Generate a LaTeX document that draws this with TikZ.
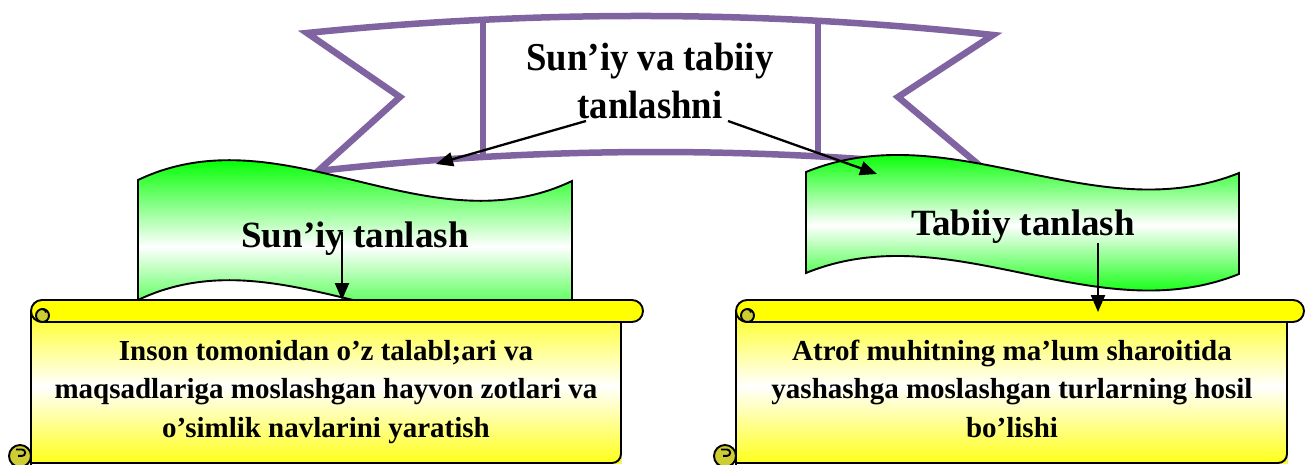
\documentclass[tikz,border=0pt]{standalone}
\usepackage{fontspec}
\setmainfont{Liberation Serif}
\newfontfamily\ribfont[FakeStretch=0.93]{Liberation Serif}
\usetikzlibrary{arrows.meta}
\definecolor{rib}{RGB}{128,100,162}
\definecolor{grn}{RGB}{0,255,0}
\definecolor{ylw}{RGB}{255,255,0}
\definecolor{curlc}{RGB}{204,204,51}
\tikzset{
  ribbon/.style={draw=rib, line width=6.5pt, fill=white, line join=miter},
  ribline/.style={draw=rib, line width=6.5pt},
  bline/.style={draw=black, line width=1.9pt},
  sline/.style={draw=black, line width=1.9pt},
  ttl/.style={inner sep=0pt, anchor=base, font=\bfseries\fontsize{37}{44}\selectfont},
  rtl/.style={inner sep=0pt, anchor=base, font=\ribfont\bfseries\fontsize{39.5}{44}\selectfont},
  stx/.style={inner sep=0pt, anchor=base, font=\bfseries\fontsize{29}{36}\selectfont},
  arr/.style={draw=black, line width=2.3pt, -{Triangle[length=17pt,width=14pt]}},
  gshade/.style={top color=grn, bottom color=grn, middle color=white},
  yshade/.style={top color=ylw, bottom color=ylw, middle color=white}
}
\newcommand\myscroll[3]{%
  % #1 body left, #2 body right, #3 bar rightmost
  \begin{scope}
    \clip (#1,311) -- (#1,463) -- (#2,463) -- (#2,311) -- cycle;
    \fill[yshade] (#1-2,300) rectangle (#2+2,472);
  \end{scope}
  \draw[sline] (#1,311) -- (#1,467);
  \draw[sline, rounded corners=9pt] (#1,463) -- (#2,463) -- (#2,318);
  \draw[sline, fill=ylw] (#1+11,300) -- (#3-11,300) arc(-90:90:11) -- (#1+11,322) arc(90:270:11) -- cycle;
  \draw[sline, fill=curlc] (#1+11.5,315.5) circle (6.5);
  \draw[sline] (#1+11.5,309) arc(-90:0:3.5);
  \draw[sline, fill=curlc] (#1-11,456) circle (11);
  \draw[sline] (#1-15,449.5) -- (#1-9,449.5) arc(-90:90:3.2) -- (#1-13,455.9);
}
\begin{document}
\begin{tikzpicture}[x=1pt,y=-1pt]
\useasboundingbox (0,0) rectangle (1305,465);

% ---- top ribbon ----
\coordinate (rTL) at (307,33);
\coordinate (rTR) at (993,35);
\coordinate (rNR) at (898,97);
\coordinate (rBR) at (985,170);
\coordinate (rBL) at (318,171);
\coordinate (rNL) at (400,97);
\draw[ribbon] (rTL) .. controls (535.7,9.7) and (764.3,10.3) .. (rTR) -- (rNR) -- (rBR)
   .. controls (762.7,145.7) and (540.3,146) .. (rBL) -- (rNL) -- cycle;
\coordinate (v1t) at (483,20.2); \coordinate (v1b) at (483,156.9);
\coordinate (v2t) at (818,20.4); \coordinate (v2b) at (818,156.9);
\draw[ribline] (v1t) -- (v1b);
\draw[ribline] (v2t) -- (v2b);
\node[rtl] (r1) at (650,71) {Sun’iy va tabiiy};
\node[rtl] (r2) at (650,119) {tanlashni};

% ---- left green banner ----
\begin{scope}
  \clip (138,180) .. controls (282.7,111) and (427.3,250) .. (572,181) -- (572,301)
     .. controls (427.3,370) and (282.7,231) .. (138,300) -- cycle;
  \fill[gshade] (130,158) rectangle (580,335);
\end{scope}
\draw[bline] (138,180) .. controls (282.7,111) and (427.3,250) .. (572,181) -- (572,301)
     .. controls (427.3,370) and (282.7,231) .. (138,300) -- cycle;
\node[ttl] (b1) at (355,247) {Sun’iy tanlash};

% ---- right green banner ----
\begin{scope}
  \clip (806,172) .. controls (950.3,113) and (1094.7,231) .. (1239,173) -- (1239,274)
     .. controls (1094.7,332) and (950.3,214) .. (806,273) -- cycle;
  \fill[gshade] (800,152) rectangle (1245,298);
\end{scope}
\draw[bline] (806,172) .. controls (950.3,113) and (1094.7,231) .. (1239,173) -- (1239,274)
     .. controls (1094.7,332) and (950.3,214) .. (806,273) -- cycle;
\node[ttl] (b2) at (1023,235) {Tabiiy tanlash};

% ---- scrolls ----
\myscroll{31}{621}{643}
\myscroll{736}{1287}{1304}

\node[stx] (s1a) at (326,360) {Inson tomonidan o’z talabl;ari va};
\node[stx] (s1b) at (326,398) {maqsadlariga moslashgan hayvon zotlari va};
\node[stx] (s1c) at (326,437) {o’simlik navlarini yaratish};
\node[stx] (s2a) at (1012,360) {Atrof muhitning ma’lum sharoitida};
\node[stx] (s2b) at (1012,398) {yashashga moslashgan turlarning hosil};
\node[stx] (s2c) at (1012,437) {bo’lishi};

% ---- arrows ----
\coordinate (a1s) at (586,121); \coordinate (a1e) at (436,164);
\coordinate (a2s) at (728,121); \coordinate (a2e) at (877,174);
\coordinate (a3s) at (342,232); \coordinate (a3e) at (342,300);
\coordinate (a4s) at (1098,243); \coordinate (a4e) at (1098,312);
\draw[arr] (a1s) -- (a1e);
\draw[arr] (a2s) -- (a2e);
\draw[arr] (a3s) -- (a3e);
\draw[arr] (a4s) -- (a4e);
\end{tikzpicture}
\end{document}
